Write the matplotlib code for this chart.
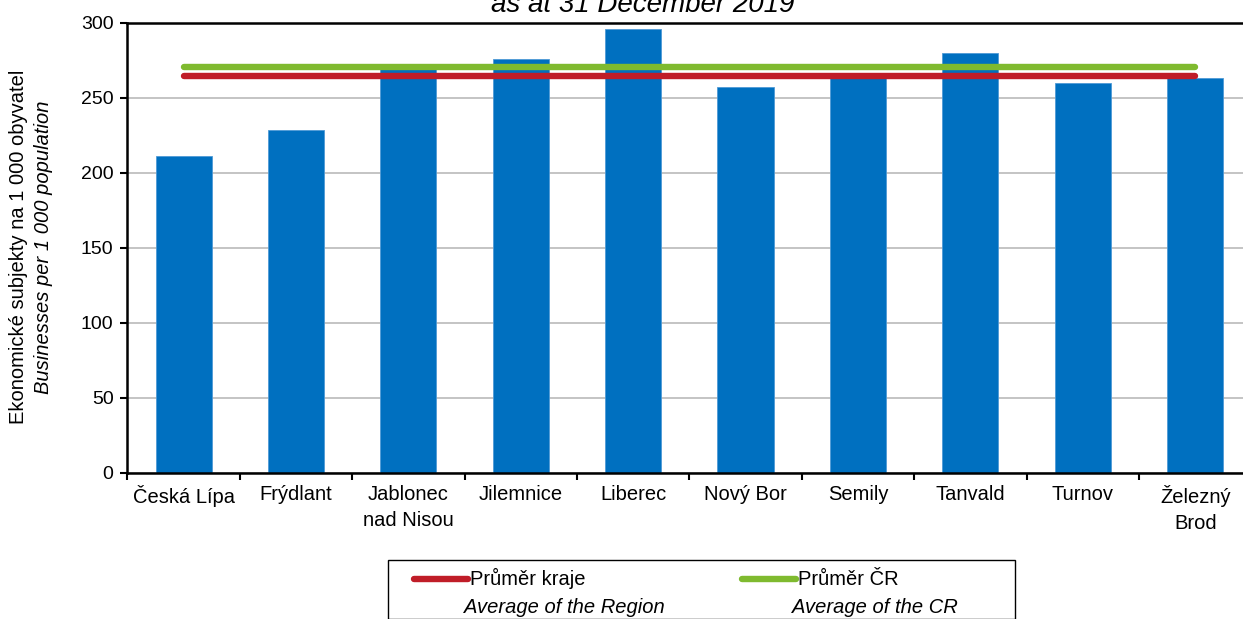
import matplotlib
matplotlib.use("Agg")
import matplotlib.pyplot as plt
import numpy as np
from matplotlib.lines import Line2D
from matplotlib.patches import Rectangle

plt.rcParams["font.family"] = ["Liberation Sans", "DejaVu Sans"]

districts = ["Česká Lípa", "Frýdlant", "Jablonec\nnad Nisou", "Jilemnice", "Liberec",
             "Nový Bor", "Semily", "Tanvald", "Turnov", "Železný\nBrod"]
businesses_per_1000 = [211, 228.5, 270, 276, 295.8, 257, 264, 279.5, 260, 263]
region_avg = 264.5
cr_avg = 270.6

y_ticks = [0, 50, 100, 150, 200, 250, 300]

BAR_BLUE = "#0070c0"
RED = "#c01d28"
GREEN = "#7fba2f"
FS = 14.5

W, H = 1243, 619
fig = plt.figure(figsize=(W / 100, H / 100), dpi=100)
ax = fig.add_axes([127.4 / W, 1 - 472.7 / H, 1124 / W, 450 / H])

x = np.arange(len(districts))
ax.bar(x, businesses_per_1000, width=0.5, color=BAR_BLUE, edgecolor="#4f9ad6",
       linewidth=0.6, zorder=2)
ax.plot(x, [region_avg] * len(x), color=RED, lw=4.6, solid_capstyle="round", zorder=3)
ax.plot(x, [cr_avg] * len(x), color=GREEN, lw=4.6, solid_capstyle="round", zorder=3)

ax.set_xlim(-0.5, len(x) - 0.5)
ax.set_ylim(0, 300)
ax.set_yticks(y_ticks)
ax.yaxis.grid(True, color="#c4c4c4", lw=1.4, zorder=0)
ax.set_axisbelow(True)

# category labels on major ticks, tick marks on the category boundaries
ax.set_xticks(x)
ax.set_xticklabels(districts, fontsize=FS, linespacing=1.45)
ax.set_xticks(np.arange(len(x) + 1) - 0.5, minor=True)
ax.tick_params(axis="x", which="major", length=0, pad=9)
ax.tick_params(axis="x", which="minor", length=5, width=1.5, direction="out")
ax.tick_params(axis="y", length=5, width=1.5, direction="out", labelsize=14, pad=5)

for side in ["left", "bottom", "top", "right"]:
    ax.spines[side].set_linewidth(1.8)
    ax.spines[side].set_color("black")

fig.text(643 / W, 1 - 5 / H, "as at 31 December 2019", ha="center", va="center",
         fontsize=20, style="italic")

fig.text(19 / W, 1 - 247 / H, "Ekonomické subjekty na 1 000 obyvatel", rotation=90,
         ha="center", va="center", fontsize=FS)
fig.text(44 / W, 1 - 247 / H, "Businesses per 1 000 population", rotation=90,
         ha="center", va="center", fontsize=FS, style="italic")

# legend box, partly cut by the bottom edge of the figure
fig.patches.append(Rectangle((388 / W, 0), (1015 - 388) / W, 1 - 560 / H,
                             transform=fig.transFigure, fill=False, ec="black",
                             lw=1.0, clip_on=False))
legend_items = [
    (414, 468, RED, "Průměr kraje", "Average of the Region"),
    (742, 796, GREEN, "Průměr ČR", "Average of the CR"),
]
for x0, x1, colour, label_cz, label_en in legend_items:
    fig.lines.append(Line2D([x0 / W, x1 / W], [1 - 579 / H] * 2, transform=fig.transFigure,
                            color=colour, lw=4.6, solid_capstyle="round"))
    fig.text((x1 + 2) / W, 1 - 585 / H, label_cz, ha="left", va="baseline", fontsize=FS)
    fig.text((x1 - 4) / W, 1 - 613 / H, label_en, ha="left", va="baseline", fontsize=FS,
             style="italic")

fig.savefig("out.png", dpi=100)
